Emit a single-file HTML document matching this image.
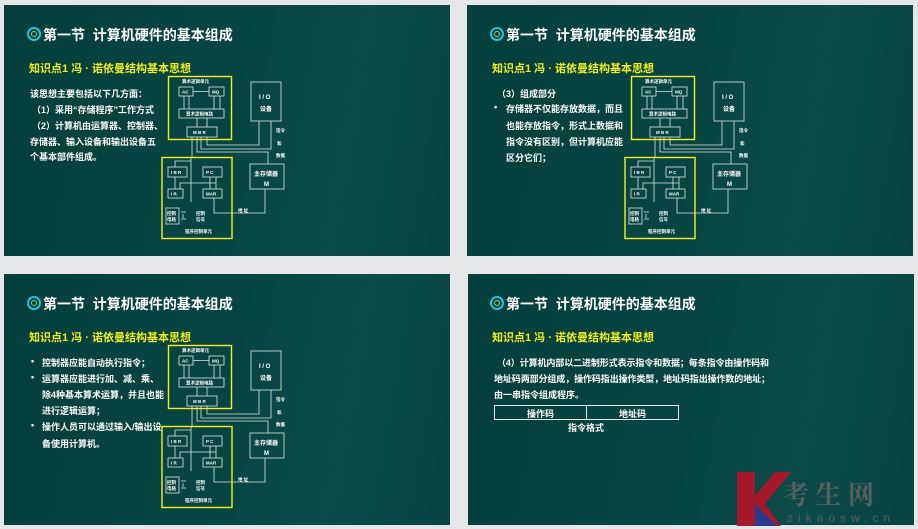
<!DOCTYPE html>
<html><head><meta charset="utf-8"><style>
html,body{margin:0;padding:0}
body{width:918px;height:529px;background:#e6e7e9;position:relative;overflow:hidden;font-family:"Liberation Sans","Noto Sans CJK SC",sans-serif}
.s{position:absolute;width:446px;height:251px;background:linear-gradient(100deg,#063f3c 0%,#084542 50%,#0c4b48 75%,#084340 100%);overflow:hidden}
.t{position:absolute;color:#fff;font-weight:bold;font-size:14px;white-space:nowrap}
.ic{position:absolute;width:10px;height:10px;border:2px solid #1fc3e0;border-radius:50%}
.ic:after{content:"";position:absolute;left:2px;top:2px;width:4px;height:4px;border:1px solid #9bd36a;border-radius:50%}
.y{position:absolute;color:#f0ef1a;font-weight:bold;font-size:11px;white-space:nowrap}
.b{position:absolute;color:#fff;font-weight:bold;font-size:9px;white-space:nowrap}
svg{position:absolute}
svg text{font-family:"Liberation Sans","Noto Sans CJK SC",sans-serif;fill:#fff;font-weight:bold}
</style></head><body>

<!-- slide 1 -->
<div class="s" style="left:4px;top:5px"></div>
<div class="ic" style="left:27px;top:27px"></div>
<div class="t" style="left:43px;top:25px">第一节&nbsp; 计算机硬件的基本组成</div>
<div class="y" style="left:29px;top:60px">知识点1 冯 · 诺依曼结构基本思想</div>
<div class="b" style="left:30px;top:87px">该思想主要包括以下几方面：</div>
<div class="b" style="left:32px;top:103px">（1）采用“存储程序”工作方式</div>
<div class="b" style="left:32px;top:119px">（2）计算机由运算器、控制器、</div>
<div class="b" style="left:30px;top:135px">存储器、输入设备和输出设备五</div>
<div class="b" style="left:30px;top:150px">个基本部件组成。</div>

<!-- slide 2 -->
<div class="s" style="left:467px;top:5px"></div>
<div class="ic" style="left:490px;top:27px"></div>
<div class="t" style="left:506px;top:25px">第一节&nbsp; 计算机硬件的基本组成</div>
<div class="y" style="left:492px;top:60px">知识点1 冯 · 诺依曼结构基本思想</div>
<div class="b" style="left:497px;top:87px">（3）组成部分</div>
<div class="b" style="left:494px;top:102px">•</div>
<div class="b" style="left:506px;top:102px">存储器不仅能存放数据，而且</div>
<div class="b" style="left:506px;top:119px">也能存放指令，形式上数据和</div>
<div class="b" style="left:506px;top:135px">指令没有区别，但计算机应能</div>
<div class="b" style="left:506px;top:151px">区分它们；</div>

<!-- slide 3 -->
<div class="s" style="left:4px;top:274px"></div>
<div class="ic" style="left:27px;top:296px"></div>
<div class="t" style="left:43px;top:294px">第一节&nbsp; 计算机硬件的基本组成</div>
<div class="y" style="left:29px;top:329px">知识点1 冯 · 诺依曼结构基本思想</div>
<div class="b" style="left:31px;top:356px">•</div><div class="b" style="left:42px;top:356px">控制器应能自动执行指令；</div>
<div class="b" style="left:31px;top:372px">•</div><div class="b" style="left:42px;top:372px">运算器应能进行加、减、乘、</div>
<div class="b" style="left:42px;top:388px">除4种基本算术运算，并且也能</div>
<div class="b" style="left:42px;top:404px">进行逻辑运算；</div>
<div class="b" style="left:31px;top:420px">•</div><div class="b" style="left:42px;top:420px">操作人员可以通过输入/输出设</div>
<div class="b" style="left:42px;top:437px">备使用计算机。</div>

<!-- slide 4 -->
<div class="s" style="left:468px;top:274px"></div>
<div class="ic" style="left:490px;top:296px"></div>
<div class="t" style="left:506px;top:294px">第一节&nbsp; 计算机硬件的基本组成</div>
<div class="y" style="left:492px;top:329px">知识点1 冯 · 诺依曼结构基本思想</div>
<div class="b" style="left:497px;top:356px;letter-spacing:-0.1px">（4）计算机内部以二进制形式表示指令和数据；每条指令由操作码和</div>
<div class="b" style="left:494px;top:372px;letter-spacing:-0.1px">地址码两部分组成，操作码指出操作类型，地址码指出操作数的地址；</div>
<div class="b" style="left:494px;top:388px">由一串指令组成程序。</div>
<div style="position:absolute;left:494px;top:405px;width:183px;height:13px;border:1px solid #e8e8e8"></div>
<div style="position:absolute;left:586px;top:405px;width:1px;height:15px;background:#e8e8e8"></div>
<div class="b" style="left:527px;top:407px">操作码</div>
<div class="b" style="left:619px;top:407px">地址码</div>
<div class="b" style="left:568px;top:421px">指令格式</div>
<!-- watermark -->
<svg style="left:735px;top:470px" width="180" height="58" viewBox="0 0 180 58">
<polygon points="2,2 20,2 20,26 40,2 56,2 30,34 46,56 2,56" fill="#a5192a"/>
<polygon points="20,34 20,56 42,56" fill="#2a3a8c"/>
<text x="48" y="34" font-size="26" style="fill:#56605f;font-family:'Noto Serif CJK SC',serif">考 生 网</text>
<text x="52" y="52" font-size="12" letter-spacing="5" style="fill:#56605f;font-weight:normal">zikaosw.cn</text>
</svg>

<!-- diagrams -->
<svg style="left:160px;top:74px" width="130" height="170" viewBox="160 74 130 170">
<g fill="none" stroke="#dfe6e4" stroke-width="0.8">
<rect x="179" y="87" width="14" height="9"/><rect x="209" y="87" width="15" height="9"/>
<rect x="179" y="109" width="45" height="9"/><rect x="187" y="127" width="30" height="10"/>
<rect x="251" y="82" width="30" height="39"/><rect x="250" y="164" width="34" height="25"/>
<rect x="168" y="167" width="19" height="10"/><rect x="203" y="167" width="19" height="10"/>
<rect x="168" y="189" width="15" height="9"/><rect x="203" y="189" width="19" height="9"/>
<rect x="166" y="208" width="13" height="16"/>
<path d="M209 91.5H193M184 96V109M189 109V96M214 96V109M220 109V96M197 118V127M207 127V118"/>
<path d="M192 137V157M197 137V152H268V164M201 137V149H271V121M207 137V145H259V121M191 157V202M191 161H175V167M175 177V189M180 189V183H216V189M210 189V177M216 177V189M191 183H180M214 198V213H265V189"/>
<path d="M181 212H186M181 219H186M183 214V218"/>
</g>
<rect x="168.5" y="76.5" width="63" height="63" fill="none" stroke="#f2f020" stroke-width="1.4"/>
<rect x="162" y="157.5" width="70" height="81" fill="none" stroke="#f2f020" stroke-width="1.4"/>
<g font-size="4.5">
<text x="182" y="83">算术逻辑单元</text><text x="182" y="93.5">AC</text><text x="212" y="93.5">MQ</text>
<text x="186" y="115.5">算术逻辑电路</text><text x="193" y="134">M B R</text>
<text x="171" y="174">I B R</text><text x="206" y="174">P C</text><text x="171" y="195.5">I R</text><text x="206" y="195.5">MAR</text>
<text x="167" y="215">控制</text><text x="167" y="221">电路</text><text x="196" y="215">控制</text><text x="196" y="221">信号</text>
<text x="185" y="233">程序控制单元</text><text x="238" y="212">地 址</text>
<text x="276" y="132">指令</text><text x="277" y="145">和</text><text x="276" y="157">数据</text>
</g>
<g font-size="6" style="font-weight:normal"><text x="259" y="99">I / O</text><text x="260" y="111">设备</text>
<text x="254" y="176">主存储器</text><text x="264" y="186">M</text></g>
</svg>
<svg style="left:623px;top:74px" width="130" height="170" viewBox="160 74 130 170">
<g fill="none" stroke="#dfe6e4" stroke-width="0.8">
<rect x="179" y="87" width="14" height="9"/><rect x="209" y="87" width="15" height="9"/>
<rect x="179" y="109" width="45" height="9"/><rect x="187" y="127" width="30" height="10"/>
<rect x="251" y="82" width="30" height="39"/><rect x="250" y="164" width="34" height="25"/>
<rect x="168" y="167" width="19" height="10"/><rect x="203" y="167" width="19" height="10"/>
<rect x="168" y="189" width="15" height="9"/><rect x="203" y="189" width="19" height="9"/>
<rect x="166" y="208" width="13" height="16"/>
<path d="M209 91.5H193M184 96V109M189 109V96M214 96V109M220 109V96M197 118V127M207 127V118"/>
<path d="M192 137V157M197 137V152H268V164M201 137V149H271V121M207 137V145H259V121M191 157V202M191 161H175V167M175 177V189M180 189V183H216V189M210 189V177M216 177V189M191 183H180M214 198V213H265V189"/>
<path d="M181 212H186M181 219H186M183 214V218"/>
</g>
<rect x="168.5" y="76.5" width="63" height="63" fill="none" stroke="#f2f020" stroke-width="1.4"/>
<rect x="162" y="157.5" width="70" height="81" fill="none" stroke="#f2f020" stroke-width="1.4"/>
<g font-size="4.5">
<text x="182" y="83">算术逻辑单元</text><text x="182" y="93.5">AC</text><text x="212" y="93.5">MQ</text>
<text x="186" y="115.5">算术逻辑电路</text><text x="193" y="134">M B R</text>
<text x="171" y="174">I B R</text><text x="206" y="174">P C</text><text x="171" y="195.5">I R</text><text x="206" y="195.5">MAR</text>
<text x="167" y="215">控制</text><text x="167" y="221">电路</text><text x="196" y="215">控制</text><text x="196" y="221">信号</text>
<text x="185" y="233">程序控制单元</text><text x="238" y="212">地 址</text>
<text x="276" y="132">指令</text><text x="277" y="145">和</text><text x="276" y="157">数据</text>
</g>
<g font-size="6" style="font-weight:normal"><text x="259" y="99">I / O</text><text x="260" y="111">设备</text>
<text x="254" y="176">主存储器</text><text x="264" y="186">M</text></g>
</svg>
<svg style="left:160px;top:343px" width="130" height="170" viewBox="160 74 130 170">
<g fill="none" stroke="#dfe6e4" stroke-width="0.8">
<rect x="179" y="87" width="14" height="9"/><rect x="209" y="87" width="15" height="9"/>
<rect x="179" y="109" width="45" height="9"/><rect x="187" y="127" width="30" height="10"/>
<rect x="251" y="82" width="30" height="39"/><rect x="250" y="164" width="34" height="25"/>
<rect x="168" y="167" width="19" height="10"/><rect x="203" y="167" width="19" height="10"/>
<rect x="168" y="189" width="15" height="9"/><rect x="203" y="189" width="19" height="9"/>
<rect x="166" y="208" width="13" height="16"/>
<path d="M209 91.5H193M184 96V109M189 109V96M214 96V109M220 109V96M197 118V127M207 127V118"/>
<path d="M192 137V157M197 137V152H268V164M201 137V149H271V121M207 137V145H259V121M191 157V202M191 161H175V167M175 177V189M180 189V183H216V189M210 189V177M216 177V189M191 183H180M214 198V213H265V189"/>
<path d="M181 212H186M181 219H186M183 214V218"/>
</g>
<rect x="168.5" y="76.5" width="63" height="63" fill="none" stroke="#f2f020" stroke-width="1.4"/>
<rect x="162" y="157.5" width="70" height="81" fill="none" stroke="#f2f020" stroke-width="1.4"/>
<g font-size="4.5">
<text x="182" y="83">算术逻辑单元</text><text x="182" y="93.5">AC</text><text x="212" y="93.5">MQ</text>
<text x="186" y="115.5">算术逻辑电路</text><text x="193" y="134">M B R</text>
<text x="171" y="174">I B R</text><text x="206" y="174">P C</text><text x="171" y="195.5">I R</text><text x="206" y="195.5">MAR</text>
<text x="167" y="215">控制</text><text x="167" y="221">电路</text><text x="196" y="215">控制</text><text x="196" y="221">信号</text>
<text x="185" y="233">程序控制单元</text><text x="238" y="212">地 址</text>
<text x="276" y="132">指令</text><text x="277" y="145">和</text><text x="276" y="157">数据</text>
</g>
<g font-size="6" style="font-weight:normal"><text x="259" y="99">I / O</text><text x="260" y="111">设备</text>
<text x="254" y="176">主存储器</text><text x="264" y="186">M</text></g>
</svg>
</body></html>
